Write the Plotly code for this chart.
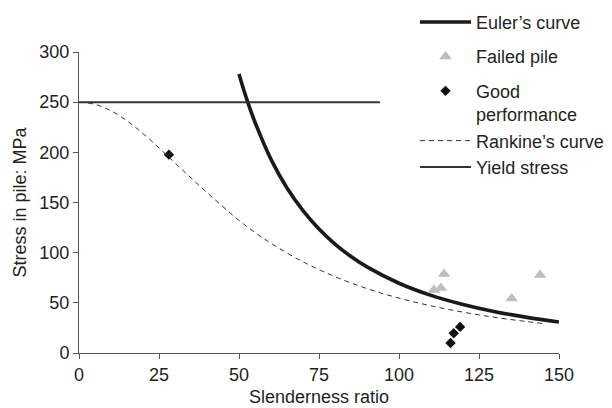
import plotly.graph_objects as go

# Euler's curve
euler_x = [50, 52, 55, 60, 65, 70, 75, 80, 85, 90, 100, 110, 120, 130, 140, 150]
euler_y = [278, 257, 230, 193, 164.5, 142, 123.6, 108.6, 96.2, 85.8, 69.5, 57.4, 48.3, 41.1, 35.5, 30.9]

# Rankine's curve
rankine_x = [0, 5, 10, 15, 20, 25, 30, 35, 40, 45, 50, 55, 60, 70, 80, 90, 100, 110, 120, 130, 140, 145]
rankine_y = [250, 247.8, 241.4, 231.4, 218.7, 204.4, 189.4, 174.5, 159.9, 145.8, 132.1, 120.2, 109.4,
             90.9, 76.1, 64.2, 54.7, 47.0, 40.7, 35.5, 31.3, 29.4]

# Yield stress
yield_x = [0, 94]
yield_y = [250, 250]

# Failed piles
failed_x = [114.1, 110.9, 113.1, 135.2, 144.1]
failed_y = [78.7, 62.7, 64.7, 54.4, 77.7]

# Good performance
good_x = [28.1, 116.1, 117.1, 119.1]
good_y = [197.7, 10, 19.7, 26]

x_ticks = [0, 25, 50, 75, 100, 125, 150]
y_ticks = [0, 50, 100, 150, 200, 250, 300]

FONT = "Liberation Sans, Arial, sans-serif"
TXT = "#231f20"
AX = "#555555"

fig = go.Figure()
fig.add_trace(go.Scatter(x=euler_x, y=euler_y, mode="lines", name="Euler\u2019s curve",
                         line=dict(color="#1a1a1a", width=3.6, shape="spline"),
                         legendgroup="g1"))
fig.add_trace(go.Scatter(x=failed_x, y=failed_y, mode="markers", name="Failed pile",
                         marker=dict(symbol="triangle-up", size=11, color="#bdbdbd"),
                         legendgroup="g2"))
fig.add_trace(go.Scatter(x=good_x, y=good_y, mode="markers", name="Good<br>performance",
                         marker=dict(symbol="diamond", size=8, color="#111111"),
                         legendgroup="g3"))
fig.add_trace(go.Scatter(x=rankine_x, y=rankine_y, mode="lines", name="Rankine\u2019s curve",
                         line=dict(color="#333333", width=1, dash="5px,4px", shape="spline"),
                         legendgroup="g3"))
fig.add_trace(go.Scatter(x=yield_x, y=yield_y, mode="lines", name="Yield stress",
                         line=dict(color="#333333", width=2),
                         legendgroup="g3"))

fig.update_layout(
    width=612, height=408,
    margin=dict(l=79, r=53, t=52, b=55, autoexpand=False),
    paper_bgcolor="white", plot_bgcolor="white",
    font=dict(family=FONT, size=18, color=TXT),
    showlegend=True,
    legend=dict(x=0.7, y=1.16, xanchor="left", yanchor="top",
                bgcolor="rgba(255,255,255,0)", borderwidth=0,
                font=dict(family=FONT, size=18, color=TXT),
                itemwidth=51, tracegroupgap=8, traceorder="grouped", valign="top"),
    xaxis=dict(range=[0, 150], tickvals=x_ticks, ticks="outside", ticklen=5,
               tickcolor=AX, showline=True, linecolor=AX, linewidth=1,
               showgrid=False, zeroline=False,
               tickfont=dict(family=FONT, size=18, color=TXT),
               title=dict(text="Slenderness ratio", font=dict(family=FONT, size=18, color=TXT),
                          standoff=6)),
    yaxis=dict(range=[0, 300], tickvals=y_ticks, ticks="outside", ticklen=5,
               tickcolor=AX, showline=True, linecolor=AX, linewidth=1,
               showgrid=False, zeroline=False,
               tickfont=dict(family=FONT, size=18, color=TXT),
               title=dict(text="Stress in pile: MPa", font=dict(family=FONT, size=18, color=TXT),
                          standoff=8)),
)

fig.write_html("out.html")
